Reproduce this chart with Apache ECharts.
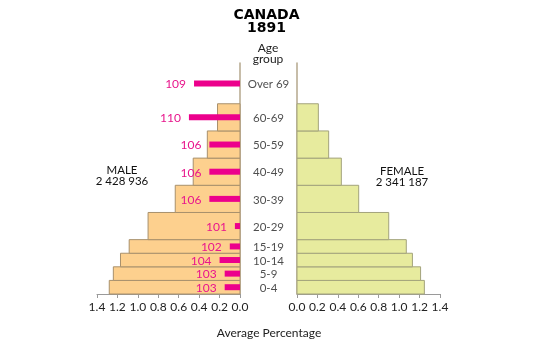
<!DOCTYPE html>
<html>
<head>
<meta charset="utf-8">
<script src="https://cdn.jsdelivr.net/npm/echarts@6/dist/echarts.min.js"></script>
<style>html,body{margin:0;padding:0;background:#fff}#c{width:533px;height:356px}</style>
</head>
<body>
<div id="c"></div>
<script>
const ageLabels = ['0-4','5-9','10-14','15-19','20-29','30-39','40-49','50-59','60-69','Over 69'];
const ageStart  = [0, 5, 10, 15, 20, 30, 40, 50, 60, 70];
const ageEnd    = [5, 10, 15, 20, 30, 40, 50, 60, 70, 85];
const male      = [1.28, 1.24, 1.17, 1.085, 0.90, 0.634, 0.458, 0.32, 0.22, null];
const female    = [1.247, 1.21, 1.13, 1.07, 0.898, 0.604, 0.434, 0.31, 0.209, null];
const sexRatio  = [103, 103, 104, 102, 101, 106, 106, 106, 110, 109];
const xTicks    = [0, 0.2, 0.4, 0.6, 0.8, 1.0, 1.2, 1.4];

const FONT = 'Lato';
const chart = echarts.init(document.getElementById('c'), null, {renderer: 'canvas'});

const maleData = ageLabels.map((l, i) => [male[i], ageStart[i], ageEnd[i]]).filter(d => d[0] != null);
const femaleData = ageLabels.map((l, i) => [female[i], ageStart[i], ageEnd[i]]).filter(d => d[0] != null);
const ratioData = ageLabels.map((l, i) => [sexRatio[i], (ageStart[i] + ageEnd[i]) / 2]);
const centerData = ageLabels.map((l, i) => [0.5, (ageStart[i] + ageEnd[i]) / 2, l]);

function rectItem(fill, stroke) {
  return function (params, api) {
    const p1 = api.coord([0, api.value(1)]);
    const p2 = api.coord([api.value(0), api.value(2)]);
    const x = Math.min(p1[0], p2[0]), y = Math.min(p1[1], p2[1]);
    return {
      type: 'rect',
      shape: {x: x, y: y, width: Math.abs(p2[0] - p1[0]), height: Math.abs(p2[1] - p1[1])},
      style: {fill: fill, stroke: stroke, lineWidth: 1}
    };
  };
}

const yAxisBase = {type: 'value', min: 0, max: 85, splitLine: {show: false},
  axisLabel: {show: false}, axisTick: {show: false}};
const xAxisBase = {type: 'value', min: 0, max: 1.4, interval: 0.2,
  splitLine: {show: false},
  axisLine: {show: true, lineStyle: {color: '#9a9a9a', width: 1}},
  axisTick: {show: true, length: 4, lineStyle: {color: '#9a9a9a'}},
  axisLabel: {color: '#222', fontFamily: FONT, fontSize: 12, margin: 7,
    formatter: v => v.toFixed(1)}};

chart.setOption({
  animation: false,
  backgroundColor: '#fff',
  title: [
    {text: 'CANADA\n1891', left: 'center', top: 4,
      textStyle: {fontFamily: 'DejaVu Sans', fontWeight: 'bold', fontSize: 14, lineHeight: 13, color: '#000'}},
  ],
  graphic: [
    {type: 'text', style: {text: 'Age\ngroup', x: 268, y: 43, align: 'center', font: '12px Lato', lineHeight: 11, fill: '#222'}},
    {type: 'text', style: {text: 'MALE\n2 428 936', x: 122, y: 165, align: 'center', font: '11.5px Lato', lineHeight: 11, fill: '#111'}},
    {type: 'text', style: {text: 'FEMALE\n2 341 187', x: 402, y: 166, align: 'center', font: '11.5px Lato', lineHeight: 11, fill: '#111'}},
    {type: 'text', style: {text: 'Average Percentage', x: 269, y: 327, align: 'center', font: '12px Lato', fill: '#222'}}
  ],
  grid: [
    {left: 97, width: 143, top: 63, height: 231},
    {left: 297, width: 143, top: 63, height: 231},
    {left: 240, width: 57, top: 63, height: 231}
  ],
  xAxis: [
    Object.assign({}, xAxisBase, {gridIndex: 0, inverse: true}),
    Object.assign({}, xAxisBase, {gridIndex: 1}),
    {gridIndex: 2, type: 'value', min: 0, max: 1, show: false},
    {gridIndex: 0, type: 'value', min: 100, max: 128, inverse: true, show: false}
  ],
  yAxis: [
    Object.assign({}, yAxisBase, {gridIndex: 0, position: 'right',
      axisLine: {show: true, lineStyle: {color: '#b4a78c', width: 1.5}}}),
    Object.assign({}, yAxisBase, {gridIndex: 1, position: 'left',
      axisLine: {show: true, lineStyle: {color: '#b4a78c', width: 1.5}}}),
    Object.assign({}, yAxisBase, {gridIndex: 2, show: false})
  ],
  series: [
    {type: 'custom', xAxisIndex: 0, yAxisIndex: 0, data: maleData,
      renderItem: rectItem('#fdd08e', '#a8906c'), z: 2},
    {type: 'custom', xAxisIndex: 1, yAxisIndex: 1, data: femaleData,
      renderItem: rectItem('#e7eb9e', '#a3a37c'), z: 2},
    {type: 'custom', xAxisIndex: 3, yAxisIndex: 0, data: ratioData, z: 3,
      renderItem: function (params, api) {
        const p0 = api.coord([100, api.value(1)]);
        const p1 = api.coord([api.value(0), api.value(1)]);
        const h = 6;
        return {type: 'group', children: [
          {type: 'rect', shape: {x: p1[0], y: p0[1] - h / 2, width: p0[0] - p1[0], height: h},
            style: {fill: '#ec008c'}},
          {type: 'text', style: {text: String(api.value(0)), x: p1[0] - 8, y: p0[1] + 1,
            align: 'right', verticalAlign: 'middle', font: '12px Lato', fill: '#e8168c'}}
        ]};
      }},
    {type: 'scatter', xAxisIndex: 2, yAxisIndex: 2, data: centerData, symbolSize: 0,
      label: {show: true, position: 'inside', formatter: p => p.data[2],
        fontFamily: FONT, fontSize: 11.5, color: '#222', offset: [0, 1]}}
  ]
});
</script>
</body>
</html>
